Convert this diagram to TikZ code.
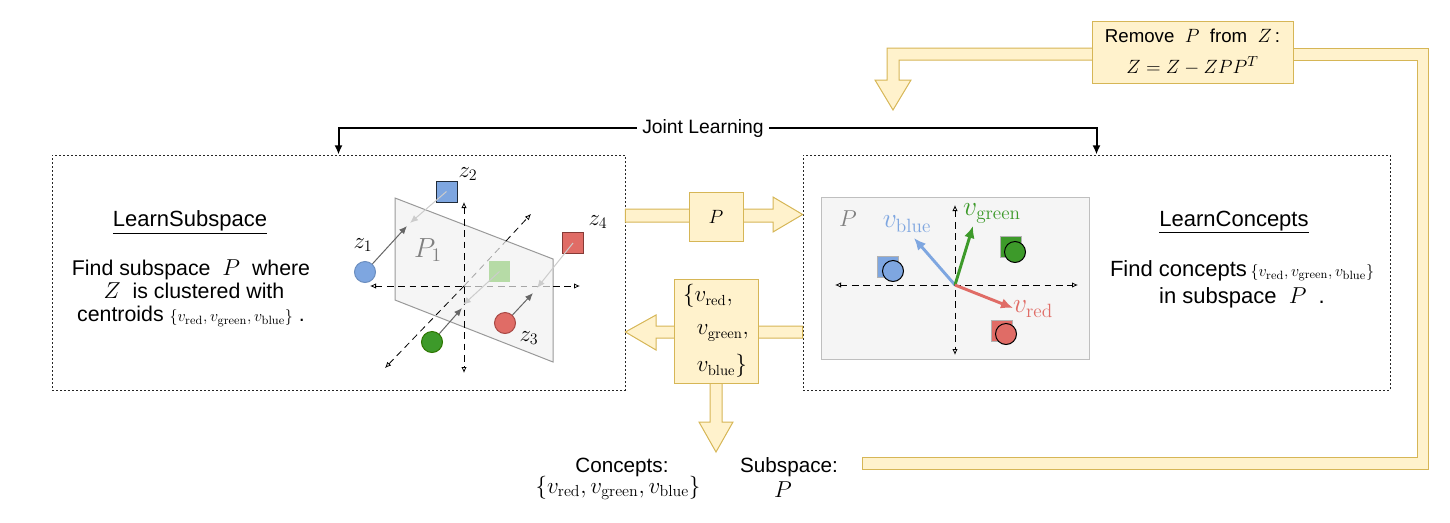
\documentclass[tikz,border=0pt]{standalone}
\usepackage[no-math]{fontspec}
\setmainfont{Liberation Sans}
\usetikzlibrary{arrows.meta}
\definecolor{yfill}{HTML}{FFF2CC}
\definecolor{ystroke}{HTML}{D6B656}
\definecolor{bfill}{HTML}{7EA6E0}
\definecolor{bstroke}{HTML}{6C8EBF}
\definecolor{gfill}{HTML}{3D9A2A}
\definecolor{gstroke}{HTML}{2D7600}
\definecolor{rfill}{HTML}{E06C66}
\definecolor{rstroke}{HTML}{A84844}
\definecolor{lgfill}{HTML}{B6DBA6}
\definecolor{planefill}{HTML}{F5F5F5}
\definecolor{planestroke}{HTML}{999999}
\definecolor{darkp}{HTML}{666666}
\definecolor{lightp}{HTML}{CCCCCC}
\newcommand\fz[1]{\fontsize{#1}{#1}\selectfont}
\begin{document}
\begin{tikzpicture}[x=0.75pt,y=-0.75pt,
  dotbox/.style={draw=black!85, dash pattern=on 1.5pt off 1.5pt, line width=0.6pt, inner sep=0},
  yel/.style={fill=yfill, draw=ystroke, line width=0.75pt},
  ybox/.style={yel, inner sep=0, align=center},
  ax/.style={dash pattern=on 5pt off 3.5pt, line width=0.6pt},
  axb/.style={ax, black},
  axg/.style={ax, black!35},
  pdark/.style={draw=darkp, line width=0.75pt, -{Latex[length=6pt,width=5pt]}},
  plight/.style={draw=lightp, line width=0.75pt, -{Latex[length=6pt,width=5pt]}},
  dot/.style={circle, minimum size=15.75pt, inner sep=0, line width=0.75pt},
  sq/.style={rectangle, minimum size=15.75pt, inner sep=0, line width=0.75pt},
  vec/.style={line width=2.2pt, -{Latex[length=9pt,width=8pt]}},
  joint/.style={line width=1.5pt, -{Latex[length=7pt,width=6pt]}}
]
\useasboundingbox (0,0) rectangle (1450,522);

% ---------------- main dotted boxes ----------------
\node[dotbox, minimum width=429.75pt, minimum height=176.25pt] (ls) at (338.5,272.5) {};
\node[dotbox, minimum width=440.25pt, minimum height=176.25pt] (rc) at (1096.5,272.5) {};

% ---------------- Joint Learning ----------------
\node[fill=white, inner xsep=4pt, font=\fz{14.5}] (jl) at (703,128) {Joint Learning};
\draw[joint] (jl.west) -| (ls.north);
\draw[joint] (jl.east) -| (rc.north);

% ---------------- Left box text ----------------
\node[font=\fz{16.5}] (lst) at (190,222) {\underline{LearnSubspace}};
\node[font=\fz{16}, align=center, text depth=0pt] (lsd) at (191,291) {%
  Find subspace\ \ $P$\ \ where\\[1.25pt]
  \ $Z$\ \ is clustered with\\[1.25pt]
  centroids\ {\fz{13}$\{v_{\mathrm{red}},v_{\mathrm{green}},v_{\mathrm{blue}}\}$}\ .};

% ---------------- Right box text ----------------
\node[font=\fz{16.5}] (lct) at (1234,222) {\underline{LearnConcepts}};
\node[font=\fz{16.5}, align=center] (lcd) at (1242,284) {%
  Find concepts\,{\fz{13}$\{v_{\mathrm{red}},v_{\mathrm{green}},v_{\mathrm{blue}}\}$}\\[3.5pt]
  in subspace\ \ $P$\ \ .};

% ---------------- 3D panel (left) ----------------
\coordinate (o1) at (464,286);
\filldraw[fill=planefill, draw=planestroke, line width=0.75pt]
  (395,198) coordinate (pa) -- (553,259) coordinate (pb) -- (553,362) coordinate (pc) -- (395,300) coordinate (pd) -- cycle;
\node[text=gray, font=\fz{20}] (p1) at (428,250) {$P_1$};
% axes
\draw[axb, {Latex[open,length=4.5pt,width=4pt]}-] (370,286) coordinate (hx1) -- (o1);
\draw[axg] (o1) -- (553,286) coordinate (hx2);
\draw[axb, -{Latex[open,length=4.5pt,width=4pt]}] (hx2) -- (580,286) coordinate (hx3);
\draw[axb, {Latex[open,length=4.5pt,width=4pt]}-{Latex[open,length=4.5pt,width=4pt]}] (464,202) coordinate (vy1) -- (464,373) coordinate (vy2);
\draw[axb, {Latex[open,length=4.5pt,width=4pt]}-] (385,368) coordinate (dz1) -- (o1);
\draw[axg] (o1) -- (506,241) coordinate (dz2);
\draw[axb, -{Latex[open,length=4.5pt,width=4pt]}] (dz2) -- (531,214) coordinate (dz3);

% points
\node[sq, fill=lgfill] (gsq) at (499.5,271.5) {};
\node[sq, fill=bfill, draw=black!70!bstroke] (z2) at (446.5,191.5) {};
\node[sq, fill=rfill, draw=rstroke!80!black] (z4) at (573,243) {};
\node[dot, fill=bfill, draw=bstroke] (z1) at (365,272) {};
\node[dot, fill=gfill, draw=gstroke] (gc) at (432,342) {};
\node[dot, fill=rfill, draw=rstroke] (z3) at (505,323) {};

% projections
\draw[plight] (z2.center) -- (410,223) coordinate (q2);
\draw[pdark] (z1) -- (407,226) coordinate (q1);
\draw[plight] (gsq.center) -- (463,305) coordinate (qg2);
\draw[pdark] (gc) -- (462,308) coordinate (qg1);
\draw[plight] (z4.center) -- (537,288) coordinate (q4);
\draw[pdark] (z3) -- (533,293) coordinate (q3);

\node[font=\fz{17}] (lz1) at (363,245) {$z_1$};
\node[font=\fz{17}] (lz2) at (468,174) {$z_2$};
\node[font=\fz{17}] (lz3) at (529,338) {$z_3$};
\node[font=\fz{17}] (lz4) at (598,222) {$z_4$};

% ---------------- 2D panel (right) ----------------
\filldraw[fill=planefill, draw=black!25, line width=0.75pt] (821,197) rectangle (1089,359);
\node[text=gray, font=\fz{18}] (pl) at (848,219) {$P$};
\coordinate (o2) at (955,285);
\draw[axb, {Latex[open,length=4.5pt,width=4pt]}-{Latex[open,length=4.5pt,width=4pt]}] (835,285) -- (1078,285);
\draw[axb, {Latex[open,length=4.5pt,width=4pt]}-{Latex[open,length=4.5pt,width=4pt]}] (955,205) -- (955,355);
\node[sq, fill=bfill, draw=black!30] (bs2) at (887.5,266.5) {};
\node[dot, fill=bfill, draw=black] (bc2) at (893,271) {};
\node[sq, fill=gfill, draw=black!30] (gs2) at (1010.5,247) {};
\node[dot, fill=gfill, draw=black] (gc2) at (1015,252) {};
\node[sq, fill=rfill, draw=black!30] (rs2) at (1001.5,330.5) {};
\node[dot, fill=rfill, draw=black] (rc2) at (1006,334) {};
\draw[vec, draw=bfill, fill=bfill] (o2) -- (914,238) coordinate (vb);
\draw[vec, draw=gfill, fill=gfill] (o2) -- (973,226) coordinate (vg);
\draw[vec, draw=rfill, fill=rfill] (o2) -- (1013,308) coordinate (vr);
\node[text=bfill, font=\fz{20}] (lvb) at (907,224) {$v_{\mathrm{blue}}$};
\node[text=gfill, font=\fz{20}] (lvg) at (992,213) {$v_{\mathrm{green}}$};
\node[text=rfill, font=\fz{19.5}] (lvr) at (1033,309) {$v_{\mathrm{red}}$};

% ---------------- yellow block arrows ----------------
\filldraw[yel] (ls.east |- 0,209) -- (773,209) -- (773,197) -- (rc.west |- 0,214.5) -- (773,232) -- (773,222) -- (ls.east |- 0,222) -- cycle;
\node[ybox, minimum width=40.5pt, minimum height=36.75pt, font=\fz{15}] (pbox) at (716,216.5) {$P$};

\filldraw[yel] (rc.west |- 0,326) -- (656,326) -- (656,315) -- (ls.east |- 0,332) -- (656,350) -- (656,338) -- (rc.west |- 0,338) -- cycle;
\filldraw[yel] (710,382) -- (722,382) -- (722,422) -- (733,422) -- (716,452) coordinate (dtip) -- (699,422) -- (710,422) -- cycle;
\node[ybox, minimum width=63pt, minimum height=78pt, font=\fz{16}, align=left] (vbox) at (716,331) {%
  $\{v_{\mathrm{red}},$\\[9pt]
  \hspace{0.65em}$v_{\mathrm{green}},$\\[9pt]
  \hspace{0.65em}$v_{\mathrm{blue}}\}$};

% removal loop
\filldraw[yel] (1093,48) -- (887,48) -- (887,80) -- (875,80) -- (893,110) coordinate (rtip) -- (911,80) -- (899,80) -- (899,60) -- (1093,60) -- cycle;
\filldraw[yel] (1293,48) -- (1428,48) -- (1428,469) -- (862,469) -- (862,457) -- (1417,457) -- (1417,60) -- (1293,60) -- cycle;
\node[ybox, minimum width=150.75pt, minimum height=46.5pt] (rm) at (1192.5,52) {%
  {\fz{14}Remove\ \ {\fz{15}$P$}\ \ from\ \ {\fz{15}$Z$}\,:}\\[10pt]
  {\fz{15}$Z=Z-ZPP^T$}};

% ---------------- bottom outputs ----------------
\node[font=\fz{15.5}] (conc) at (622,467) {Concepts:};
\node[font=\fz{16.5}] (concs) at (618,488) {$\{v_{\mathrm{red}},v_{\mathrm{green}},v_{\mathrm{blue}}\}$};
\node[font=\fz{15.5}] (subs) at (789,467) {Subspace:};
\node[font=\fz{17}] (subp) at (783,490) {$P$};
\end{tikzpicture}
\end{document}
